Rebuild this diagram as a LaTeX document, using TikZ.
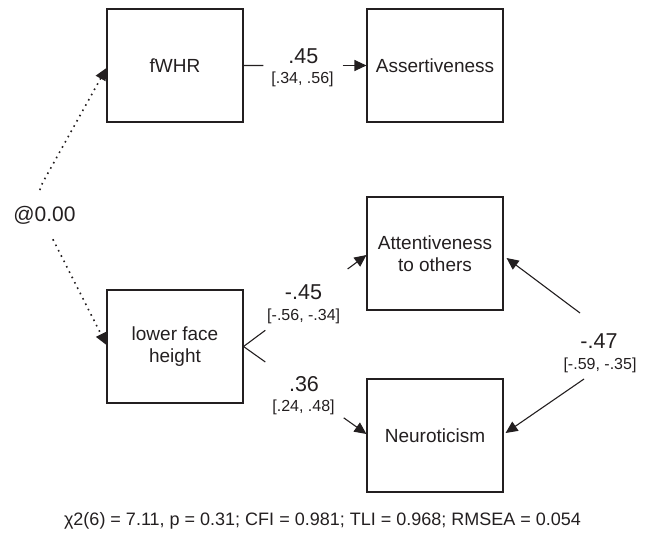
\documentclass[tikz,border=0pt]{standalone}
\usepackage{fontspec}
\setmainfont{Liberation Sans}
\usetikzlibrary{arrows.meta,calc}
\definecolor{ink}{HTML}{231F20}
\begin{document}
\begin{tikzpicture}[x=1pt,y=-1pt,
  box/.style={draw=ink,line width=1.1pt,minimum width=136pt,minimum height=113pt,inner sep=0pt,align=center,font=\fontsize{19}{22}\selectfont,text=ink},
  coef/.style={font=\fontsize{21.5}{24}\selectfont,anchor=base,text=ink,inner sep=0pt},
  ci/.style={font=\fontsize{16}{18}\selectfont,anchor=base,text=ink,inner sep=0pt},
  conn/.style={draw=ink,line width=1.1pt},
  headarrow/.style={-{Triangle[length=12pt,width=11pt]}},
  corrline/.style={draw=ink,line width=1.6pt,dash pattern=on 1.6pt off 4.4pt,{Triangle[length=12pt,width=11pt]}-{Triangle[length=12pt,width=11pt]},rounded corners=20pt}
]
\useasboundingbox (0,0) rectangle (650,534);

% boxes
\node[box] (fwhr) at (175,65.5) {fWHR};
\node[box] (ass) at (435,65.5) {Assertiveness};
\node[box] (lfh) at (175,346.5) {lower face\\height};
\node[box] (att) at (435,253.5) {Attentiveness\\to others};
\node[box] (neu) at (435,435.5) {Neuroticism};

% fWHR -> Assertiveness
\draw[conn] (fwhr.east) -- ($(fwhr.east)!0.161!(ass.west)$);
\draw[conn,headarrow] ($(fwhr.east)!0.806!(ass.west)$) -- (ass.west);
\node[coef] (b1) at (303.3,64) {.45};
\node[ci] (ci1) at (302.5,84) {[.34, .56]};

% lower face height -> Attentiveness / Neuroticism
\coordinate (attin) at ($(att.west)+(0,1.5)$);
\coordinate (neuin) at ($(neu.west)+(0,-1.5)$);
\draw[conn] (lfh.east) -- ($(lfh.east)!0.177!(attin)$);
\draw[conn,headarrow] ($(lfh.east)!0.847!(attin)$) -- (attin);
\draw[conn] (lfh.east) -- ($(lfh.east)!0.177!(neuin)$);
\draw[conn,headarrow] ($(lfh.east)!0.815!(neuin)$) -- (neuin);
\node[coef] (b2) at (303.5,300) {-.45};
\node[ci] (ci2) at (303.7,320.5) {[-.56, -.34]};
\node[coef] (b3) at (304,391.5) {.36};
\node[ci] (ci3) at (303.5,411) {[.24, .48]};

% residual correlation Attentiveness <-> Neuroticism
\coordinate (atte) at ($(att.east)+(3,4.5)$);
\coordinate (neue) at ($(neu.east)+(2,-2.5)$);
\coordinate (c1) at (580,313);
\coordinate (c2) at (584,379);
\draw[conn,headarrow] (c1) -- (atte);
\draw[conn,headarrow] (c2) -- (neue);
\node[coef] (b4) at (599,348.5) {-.47};
\node[ci] (ci4) at (600,369.5) {[-.59, -.35]};

% correlation fWHR <-> lower face height
\coordinate (vtx) at (33,200);
\draw[corrline] ($(fwhr.west)+(0,2.5)$) -- (vtx) -- ($(lfh.west)+(0,-1.5)$);
\node[fill=white,inner xsep=2pt,inner ysep=12pt,anchor=base,font=\fontsize{21}{24}\selectfont,text=ink] (corr) at (44.5,221.5) {@0.00};

% fit indices
\node[anchor=base,inner sep=0pt,font=\fontsize{18}{20}\selectfont,text=ink] (fit) at (322.5,525) {χ2(6) = 7.11, p = 0.31; CFI = 0.981; TLI = 0.968; RMSEA = 0.054};
\end{tikzpicture}
\end{document}
